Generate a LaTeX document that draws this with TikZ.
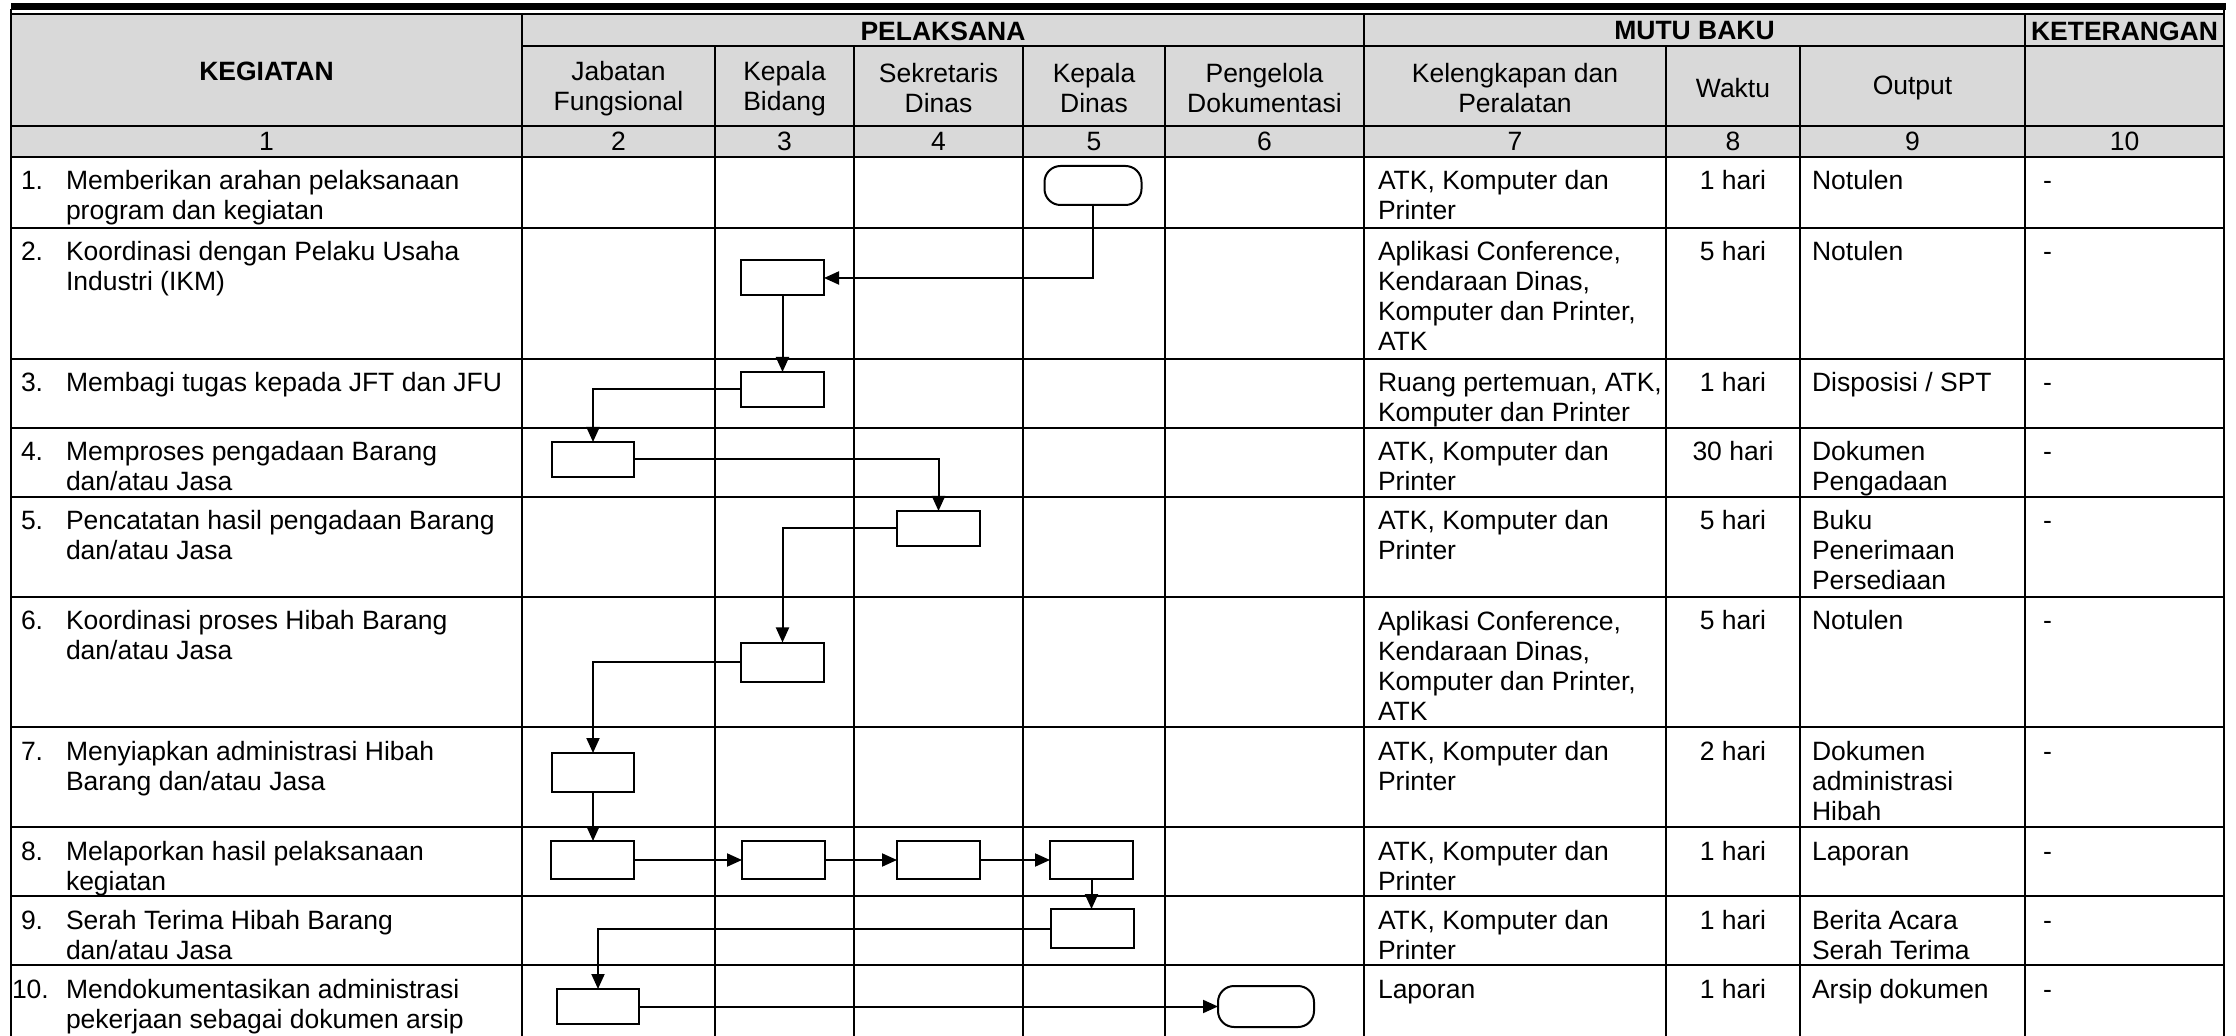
\documentclass[tikz,border=0pt]{standalone}
\usepackage{fontspec}
\setmainfont{Liberation Sans}
\usetikzlibrary{arrows.meta}
\definecolor{hdrgray}{HTML}{D9D9D9}
\newcommand{\fs}{\fontsize{13.25}{15}\selectfont}
% one table row: #1 index, #2 row top (px), #3 number, #4 kegiatan, #5 kelengkapan, #6 waktu, #7 output, #8 x of number
\newcommand{\sopRow}[8]{%
  \node[txt] (n#1) at (#8,#2+12) {\strut#3};
  \node[txt] (k#1) at (66,#2+12) {\strut#4};
  \node[txt] (a#1) at (1378,#2+12) {\strut#5};
  \node[ctr] (w#1) at (1733,#2+12) {\strut#6};
  \node[txt] (o#1) at (1812,#2+12) {\strut#7};
  \node[txt] (r#1) at (2043,#2+12) {\strut-};
}
\begin{document}
\begin{tikzpicture}[x=0.5pt,y=-0.5pt,
  txt/.style={anchor=north west, inner sep=0pt, outer sep=0pt, align=left, font=\fs},
  ctr/.style={anchor=north, inner sep=0pt, outer sep=0pt, align=center, font=\fs},
  hdr/.style={inner sep=0pt, outer sep=0pt, align=center, font=\fs},
  hdrb/.style={hdr, font=\fs\bfseries},
  tline/.style={line width=0.8pt, line cap=rect},
  proc/.style={draw, line width=1pt, fill=white, inner sep=0pt, outer sep=0pt, minimum width=41.5pt, minimum height=17.5pt},
  term/.style={draw, line width=1pt, fill=white, rounded corners=8pt, inner sep=0pt, outer sep=0pt, minimum width=48.5pt, minimum height=19.5pt},
  arr/.style={line width=1pt, -{Triangle[length=7.5pt,width=6.5pt]}}
]
\useasboundingbox (0,0) rectangle (2236,1036);

% ---------- header background and top rule ----------
\fill[hdrgray] (11,15) rectangle (2224,157);
\fill[black] (11,3) rectangle (2226,10);
\draw[line width=1pt] (11,14) -- (2224,14);

% ---------- grid ----------
\draw[tline] (11,10) -- (11,1036);
\draw[tline] (2224,10) -- (2224,1036);
\draw[tline] (522,46) -- (2224,46);
\foreach \yy in {126,157,228,359,428,497,597,727,827,896,965}
  \draw[tline] (11,\yy) -- (2224,\yy);
\foreach \xx in {522,1364,2025}
  \draw[tline] (\xx,15) -- (\xx,1036);
\foreach \xx in {715,854,1023,1165,1666,1800}
  \draw[tline] (\xx,46) -- (\xx,1036);

% ---------- header texts ----------
\node[hdrb] (hKeg) at (266.5,71.5) {KEGIATAN};
\node[hdrb] (hPel) at (943,31) {PELAKSANA};
\node[hdrb] (hMutu) at (1694.5,31) {MUTU BAKU};
\node[hdrb] (hKet) at (2124.5,31) {KETERANGAN};
\node[hdr] (hJab) at (618.5,88.5) {Jabatan\\Fungsional};
\node[hdr] (hKb) at (784.5,88.5) {Kepala\\Bidang};
\node[hdr] (hSek) at (938.5,88.5) {Sekretaris\\Dinas};
\node[hdr] (hKd) at (1094,88.5) {Kepala\\Dinas};
\node[hdr] (hPen) at (1264.5,88.5) {Pengelola\\Dokumentasi};
\node[hdr] (hKel) at (1515,88.5) {Kelengkapan dan\\Peralatan};
\node[hdr] (hWak) at (1733,88) {Waktu};
\node[hdr] (hOut) at (1912.5,88) {Output};
\node[hdr] (c1) at (266.5,141.5) {1};
\node[hdr] (c2) at (618.5,141.5) {2};
\node[hdr] (c3) at (784.5,141.5) {3};
\node[hdr] (c4) at (938.5,141.5) {4};
\node[hdr] (c5) at (1094,141.5) {5};
\node[hdr] (c6) at (1264.5,141.5) {6};
\node[hdr] (c7) at (1515,141.5) {7};
\node[hdr] (c8) at (1733,141.5) {8};
\node[hdr] (c9) at (1912.5,141.5) {9};
\node[hdr] (c10) at (2124.5,141.5) {10};

% ---------- rows ----------
\sopRow{1}{157}{1.}{Memberikan arahan pelaksanaan\\program dan kegiatan}{ATK, Komputer dan\\Printer}{1 hari}{Notulen}{21}
\sopRow{2}{228}{2.}{Koordinasi dengan Pelaku Usaha\\Industri (IKM)}{Aplikasi Conference,\\Kendaraan Dinas,\\Komputer dan Printer,\\ATK}{5 hari}{Notulen}{21}
\sopRow{3}{359}{3.}{Membagi tugas kepada JFT dan JFU}{Ruang pertemuan, ATK,\\Komputer dan Printer}{1 hari}{Disposisi / SPT}{21}
\sopRow{4}{428}{4.}{Memproses pengadaan Barang\\dan/atau Jasa}{ATK, Komputer dan\\Printer}{30 hari}{Dokumen\\Pengadaan}{21}
\sopRow{5}{497}{5.}{Pencatatan hasil pengadaan Barang\\dan/atau Jasa}{ATK, Komputer dan\\Printer}{5 hari}{Buku\\Penerimaan\\Persediaan}{21}
\sopRow{6}{597}{6.}{Koordinasi proses Hibah Barang\\dan/atau Jasa}{Aplikasi Conference,\\Kendaraan Dinas,\\Komputer dan Printer,\\ATK}{5 hari}{Notulen}{21}
\sopRow{7}{727}{7.}{Menyiapkan administrasi Hibah\\Barang dan/atau Jasa}{ATK, Komputer dan\\Printer}{2 hari}{Dokumen\\administrasi\\Hibah}{21}
\sopRow{8}{827}{8.}{Melaporkan hasil pelaksanaan\\kegiatan}{ATK, Komputer dan\\Printer}{1 hari}{Laporan}{21}
\sopRow{9}{896}{9.}{Serah Terima Hibah Barang\\dan/atau Jasa}{ATK, Komputer dan\\Printer}{1 hari}{Berita Acara\\Serah Terima}{21}
\sopRow{10}{965}{10.}{Mendokumentasikan administrasi\\pekerjaan sebagai dokumen arsip}{Laporan}{1 hari}{Arsip dokumen}{12}

% ---------- flow shapes ----------
\node[term] (T1) at (1093,185.5) {};
\node[proc] (B2) at (782.5,278) {};
\node[proc] (B3) at (782.5,389.5) {};
\node[proc, minimum width=41pt] (B4) at (593,459.5) {};
\node[proc] (B5) at (938.5,528.5) {};
\node[proc, minimum height=19.5pt] (B6) at (782.5,662) {};
\node[proc, minimum width=41pt, minimum height=19.5pt] (B7) at (593,772.5) {};
\node[proc, minimum height=19pt] (B8a) at (592.5,860) {};
\node[proc, minimum height=19pt] (B8b) at (783.5,860) {};
\node[proc, minimum height=19pt] (B8c) at (938.5,860) {};
\node[proc, minimum height=19pt] (B8d) at (1091.5,860) {};
\node[proc, minimum height=19.5pt] (B9) at (1092.5,928.5) {};
\node[proc, minimum width=41pt] (B10) at (598,1006.5) {};
\node[term, minimum width=48pt, minimum height=20.5pt] (T2) at (1266,1006.5) {};

% ---------- connectors ----------
\draw[arr] (T1.south) |- (B2.east);
\draw[arr] (B2.south) -- (B3.north);
\draw[arr] (B3.west) -| (B4.north);
\draw[arr] (B4.east) -| (B5.north);
\draw[arr] (B5.west) -| (B6.north);
\draw[arr] (B6.west) -| (B7.north);
\draw[arr] (B7.south) -- (B7.south |- B8a.north);
\draw[arr] (B8a.east) -- (B8b.west);
\draw[arr] (B8b.east) -- (B8c.west);
\draw[arr] (B8c.east) -- (B8d.west);
\draw[arr] (B8d.south) -- (B8d.south |- B9.north);
\draw[arr] (B9.west) -| (B10.north);
\draw[arr] (B10.east) -- (T2.west);
\end{tikzpicture}
\end{document}
